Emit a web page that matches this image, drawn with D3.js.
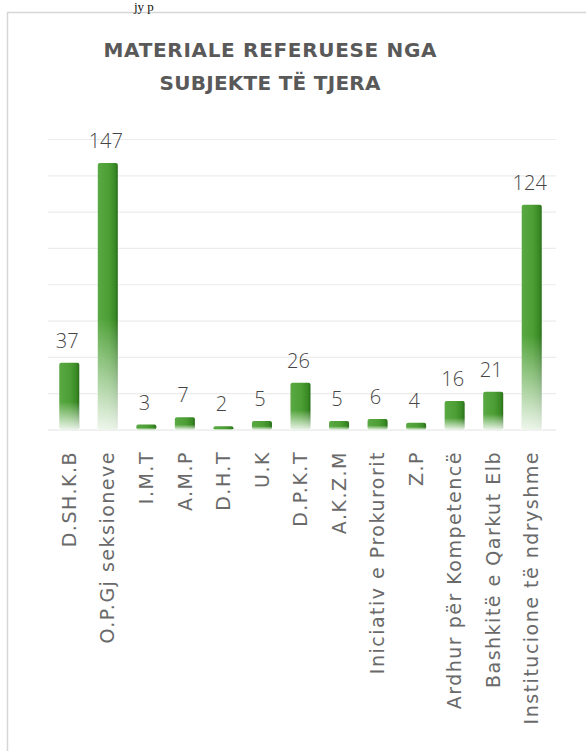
<!DOCTYPE html>
<html>
<head>
<meta charset="utf-8">
<script src="https://cdn.jsdelivr.net/npm/d3@7"></script>
<style>
  body { margin: 0; background: #fff; }
  svg { display: block; }
</style>
</head>
<body>
<div id="Chart"></div>
<script>
// chart data
var categories = ["D.SH.K.B", "O.P.Gj seksioneve", "I.M.T", "A.M.P", "D.H.T", "U.K", "D.P.K.T",
                  "A.K.Z.M", "Iniciativ e Prokurorit", "Z.P", "Ardhur për Kompetencë",
                  "Bashkitë e Qarkut Elb", "Institucione të ndryshme"];
var values = [37, 147, 3, 7, 2, 5, 26, 5, 6, 4, 16, 21, 124];
var yTicks = [0, 20, 40, 60, 80, 100, 120, 140, 160];
var titleLines = ["MATERIALE REFERUESE NGA", "SUBJEKTE TË TJERA"];

var width = 586, height = 751;

var svg = d3.select("#Chart")
            .append("svg")
            .attr("class", "chart")
            .attr("width", width)
            .attr("height", height);

// gradients for the bars
var defs = svg.append("defs");
var side = defs.append("linearGradient")
               .attr("id", "barSide")
               .attr("x1", "0").attr("x2", "1").attr("y1", "0").attr("y2", "0");
side.append("stop").attr("offset", "0%").attr("stop-color", "#5aa944");
side.append("stop").attr("offset", "55%").attr("stop-color", "#4c9e34");
side.append("stop").attr("offset", "85%").attr("stop-color", "#3a8a26");
side.append("stop").attr("offset", "100%").attr("stop-color", "#2a6f1a");
var fade = defs.append("linearGradient")
               .attr("id", "barFade")
               .attr("x1", "0").attr("x2", "0").attr("y1", "0").attr("y2", "1");
fade.append("stop").attr("offset", "0%").attr("stop-color", "#fff").attr("stop-opacity", 0);
fade.append("stop").attr("offset", "100%").attr("stop-color", "#fff").attr("stop-opacity", 0.9);

// chart frame
svg.append("rect")
   .attr("x", 7.5)
   .attr("y", 12.5)
   .attr("width", 620)
   .attr("height", 780)
   .attr("fill", "#fff")
   .attr("stroke", "#d6d6d6")
   .attr("stroke-width", 1.5);

// bit of document text above the chart
svg.append("text")
   .attr("x", 134)
   .attr("y", 11)
   .style("font-family", "Liberation Serif")
   .style("font-size", "13px")
   .style("fill", "#111")
   .text("jy p");

// title
svg.selectAll("text.title")
   .data(titleLines)
   .enter()
   .append("text")
   .attr("class", "title")
   .attr("x", 270)
   .attr("y", (d, i) => 57 + i * 33)
   .attr("text-anchor", "middle")
   .attr("textLength", (d, i) => i == 0 ? 333 : 221)
   .attr("lengthAdjust", "spacing")
   .style("font-family", "DejaVu Sans")
   .style("font-weight", "bold")
   .style("font-size", "20px")
   .style("fill", "#595959")
   .text(d => d);

// scales
var x = d3.scaleBand()
          .domain(categories)
          .range([50, 551])
          .paddingInner(0.48)
          .paddingOuter(0.24);
var y = d3.scaleLinear()
          .domain([0, 160])
          .range([430, 139.5]);

// grid lines
svg.append("g")
   .attr("class", "grid")
   .selectAll("line")
   .data(yTicks)
   .enter()
   .append("line")
   .attr("x1", 48)
   .attr("x2", 556)
   .attr("y1", d => y(d))
   .attr("y2", d => y(d))
   .attr("stroke", d => d == 0 ? "#e2e2e2" : "#ececec")
   .attr("stroke-width", 1.2);

// bars
var bars = svg.append("g").attr("class", "bars");
bars.selectAll("rect.bar")
    .data(values)
    .enter()
    .append("rect")
    .attr("class", "bar")
    .attr("x", (d, i) => x(categories[i]))
    .attr("y", d => y(d))
    .attr("width", x.bandwidth())
    .attr("height", d => y(0) - y(d))
    .attr("rx", 2)
    .attr("fill", "url(#barSide)");
// fading bottom part of every bar
bars.selectAll("rect.fade")
    .data(values)
    .enter()
    .append("rect")
    .attr("class", "fade")
    .attr("x", (d, i) => x(categories[i]) - 0.5)
    .attr("y", d => y(0) - (y(0) - y(d)) * 0.42)
    .attr("width", x.bandwidth() + 1)
    .attr("height", d => (y(0) - y(d)) * 0.42)
    .attr("fill", "url(#barFade)");

// value labels
svg.selectAll("text.value")
   .data(values)
   .enter()
   .append("text")
   .attr("class", "value")
   .attr("x", (d, i) => x(categories[i]) + x.bandwidth() / 2 - 2)
   .attr("y", d => y(d) - 15)
   .attr("text-anchor", "middle")
   .style("font-family", "Open Sans")
   .style("font-weight", "300")
   .style("font-size", "20px")
   .style("fill", "#454545")
   .text(d => d);

// category labels
svg.selectAll("text.cat")
   .data(categories)
   .enter()
   .append("text")
   .attr("class", "cat")
   .attr("transform", d => "translate(" + (x(d) + x.bandwidth() / 2) + ",451) rotate(-90)")
   .attr("dy", "0.35em")
   .attr("text-anchor", "end")
   .style("font-family", "DejaVu Sans")
   .style("font-size", "19px")
   .style("letter-spacing", "1.5px")
   .style("fill", "#6a6a6a")
   .text(d => d);
</script>
</body>
</html>
